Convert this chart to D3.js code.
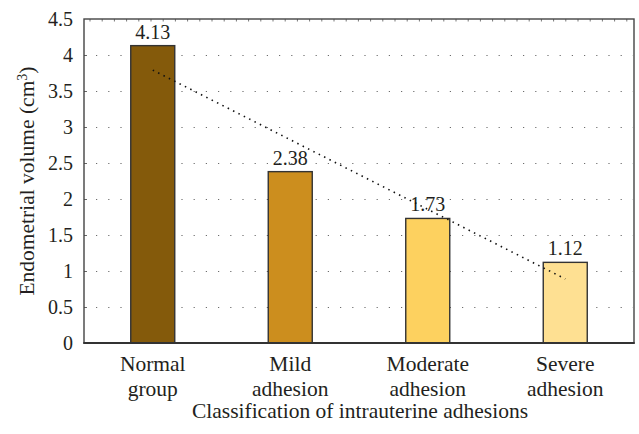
<!DOCTYPE html>
<html>
<head>
<meta charset="utf-8">
<script src="https://cdn.jsdelivr.net/npm/d3@7"></script>
<style>
  html, body { margin: 0; padding: 0; background: #fff; }
  svg { display: block; }
</style>
</head>
<body>
<svg id="chart" width="639" height="434"></svg>
<script>
// ---- data ----
const categories = [["Normal", "group"], ["Mild", "adhesion"], ["Moderate", "adhesion"], ["Severe", "adhesion"]];
const values = [4.13, 2.38, 1.73, 1.12];
const valueLabels = ["4.13", "2.38", "1.73", "1.12"];
const barColors = ["#845a0b", "#cc8e1e", "#fdd15f", "#fee092"];
const yTicks = [0, 0.5, 1, 1.5, 2, 2.5, 3, 3.5, 4, 4.5];
const yTickLabels = ["0", "0.5", "1", "1.5", "2", "2.5", "3", "3.5", "4", "4.5"];
const gridValues = [0.5, 1, 1.5, 2, 2.5, 3, 3.5, 4];
const trendStart = 3.79;   // linear trendline at first category
const trendEnd = 0.89;     // linear trendline at last category
const xTitle = "Classification of intrauterine adhesions";

const FONT = "Liberation Serif";
const TXT = "#231f20";
const FS_NUM = 20;
const FS_WORD = 21.5;

// ---- layout ----
const svg = d3.select("#chart");
const L = 84, R = 634, T = 19, B = 343;

const x = d3.scaleBand().domain(d3.range(categories.length)).range([L, R])
  .paddingInner(0.68).paddingOuter(0.34);
const y = d3.scaleLinear().domain([0, 4.5]).range([B, T]);

// dotted grid lines
const grid = svg.append("g");
gridValues.forEach(v => {
  grid.append("line")
    .attr("x1", L + 1).attr("x2", R - 1)
    .attr("y1", Math.round(y(v)) + 0.5).attr("y2", Math.round(y(v)) + 0.5)
    .attr("stroke", "#6d6d6d").attr("stroke-width", 1.1)
    .attr("stroke-dasharray", "1.2 11")
    .attr("stroke-dashoffset", -11);
});

// top border minor ticks
const topTicks = d3.range(L + 6, R - 2, 12.2);
svg.append("g").selectAll("line").data(topTicks).join("line")
  .attr("x1", d => d).attr("x2", d => d)
  .attr("y1", T).attr("y2", T + 2.5)
  .attr("stroke", "#777").attr("stroke-width", 1);

// left inner ticks
svg.append("g").selectAll("line").data(gridValues).join("line")
  .attr("x1", L).attr("x2", L + 3)
  .attr("y1", d => Math.round(y(d)) + 0.5).attr("y2", d => Math.round(y(d)) + 0.5)
  .attr("stroke", "#666").attr("stroke-width", 1);

// bars
svg.append("g").selectAll("rect").data(values).join("rect")
  .attr("x", (d, i) => x(i))
  .attr("y", d => y(d))
  .attr("width", x.bandwidth())
  .attr("height", d => B - y(d))
  .attr("fill", (d, i) => barColors[i])
  .attr("stroke", "#333").attr("stroke-width", 1.4);

// value labels
svg.append("g").selectAll("text").data(values).join("text")
  .attr("x", (d, i) => x(i) + x.bandwidth() / 2)
  .attr("y", d => y(d) - 7)
  .attr("text-anchor", "middle")
  .attr("font-family", FONT).attr("fill", TXT)
  .attr("font-size", FS_NUM)
  .text((d, i) => valueLabels[i]);

// trend line
const n = categories.length;
svg.append("line")
  .attr("x1", x(0) + x.bandwidth() / 2).attr("y1", y(trendStart))
  .attr("x2", x(n - 1) + x.bandwidth() / 2).attr("y2", y(trendEnd))
  .attr("stroke", "#111").attr("stroke-width", 1.6)
  .attr("stroke-dasharray", "1.5 4.5");

// frame
svg.append("rect")
  .attr("x", L).attr("y", T).attr("width", R - L).attr("height", B - T)
  .attr("fill", "none").attr("stroke", "#444").attr("stroke-width", 1.4);
svg.append("line")
  .attr("x1", L - 0.7).attr("x2", R + 0.7).attr("y1", B).attr("y2", B)
  .attr("stroke", "#333").attr("stroke-width", 2);

// y axis labels
const yAxis = d3.axisLeft(y).tickValues(yTicks)
  .tickFormat((d, i) => yTickLabels[i]).tickSize(0).tickPadding(11);
const gy = svg.append("g").attr("transform", `translate(${L},0)`).call(yAxis);
gy.attr("font-family", FONT).attr("font-size", FS_NUM);
gy.select(".domain").remove();
gy.selectAll("text").attr("fill", TXT).attr("font-family", FONT).attr("font-size", FS_NUM);

// x axis labels (two lines)
const xl = svg.append("g").selectAll("text").data(categories).join("text")
  .attr("text-anchor", "middle")
  .attr("font-family", FONT).attr("fill", TXT)
  .attr("font-size", FS_WORD)
  .attr("transform", (d, i) => `translate(${x(i) + x.bandwidth() / 2},371)`);
xl.each(function(d) {
  const t = d3.select(this);
  d.forEach((s, j) => t.append("tspan").attr("x", 0).attr("y", j * 25).text(s));
});

// x title
svg.append("text")
  .attr("x", (L + R) / 2 + 1).attr("y", 418)
  .attr("text-anchor", "middle")
  .attr("font-family", FONT).attr("fill", TXT)
  .attr("font-size", FS_WORD)
  .text(xTitle);

// y title
const yt = svg.append("text")
  .attr("transform", `translate(34,${(T + B) / 2}) rotate(-90)`)
  .attr("text-anchor", "middle")
  .attr("font-family", FONT).attr("fill", TXT)
  .attr("font-size", FS_WORD);
yt.append("tspan").text("Endometrial volume (cm");
yt.append("tspan").attr("dy", -7.5).attr("font-size", 14).text("3");
yt.append("tspan").attr("dy", 7.5).text(")");
</script>
</body>
</html>
